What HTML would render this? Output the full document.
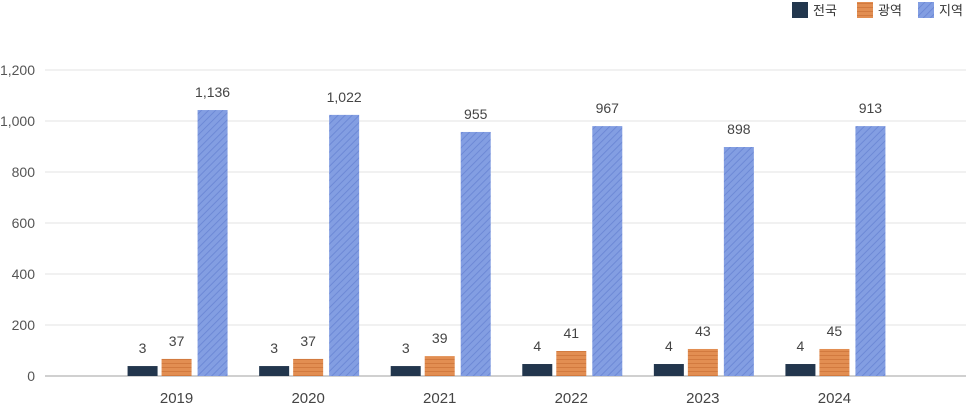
<!DOCTYPE html>
<html><head><meta charset="utf-8"><style>
body{margin:0;background:#fff;}
svg{display:block;font-family:"Liberation Sans","Noto Sans CJK KR",sans-serif;}
</style></head><body>
<svg id="chart" width="966" height="406">
<defs>
<pattern id="pOrange" width="6" height="4" patternUnits="userSpaceOnUse"><rect width="6" height="4" fill="#e28e52"/><rect y="3" width="6" height="1" fill="#d27a3f"/></pattern>
<pattern id="pBlue" width="5" height="5" patternUnits="userSpaceOnUse" patternTransform="rotate(45)"><rect width="5" height="5" fill="#839ee2"/><rect width="1" height="5" fill="#6d89d6"/></pattern>
</defs>
<g id="grid"></g>
<g id="yaxis"></g>
<g id="bars"></g>
<g id="xaxis"></g>
<g>
<g><rect x="792" y="2" width="16" height="16" fill="#22364d"/><text x="813" y="15" font-size="13" fill="#333">전국</text></g>
<g><rect x="857" y="2" width="16" height="16" fill="url(#pOrange)"/><text x="878" y="15" font-size="13" fill="#333">광역</text></g>
<g><rect x="918" y="2" width="16" height="16" fill="url(#pBlue)"/><text x="939" y="15" font-size="13" fill="#333">지역</text></g>
</g>
</svg>
<script>
const categories = ["2019","2020","2021","2022","2023","2024"];
const nationalHeights = [39,39,39,47,47,47];
const metroHeights = [67,67,78,98,106,106];
const regionalHeights = [1043,1024,957,980,898,980];
const nationalLabels = ["3","3","3","4","4","4"];
const metroLabels = ["37","37","39","41","43","45"];
const regionalLabels = ["1,136","1,022","955","967","898","913"];
const yTicks = [0,200,400,600,800,1000,1200];

const NS="http://www.w3.org/2000/svg";
const x0=45, x1=966, y0=376, yMax=1200, yTop=70;
const slot=(x1-x0)/7;
function xCenter(i){return x0+slot*(i+1);}
function yScale(v){return y0-(v/yMax)*(y0-yTop);}
function mk(tag,attrs,parent){const e=document.createElementNS(NS,tag);for(const k in attrs)e.setAttribute(k,attrs[k]);parent.appendChild(e);return e;}
const grid=document.getElementById('grid'),yax=document.getElementById('yaxis'),bars=document.getElementById('bars'),xax=document.getElementById('xaxis');
yTicks.forEach(t=>{
  const y=yScale(t);
  const l=mk('line',{x1:x0,x2:x1,y1:y,y2:y,stroke:t===0?'#d0d0d0':'#e3e3e3','stroke-width':t===0?2:1},grid);
  
  
  const tx=mk('text',{x:35,y:y+5,'text-anchor':'end','font-size':14,fill:'#555'},yax);
  tx.textContent=t.toLocaleString('en-US');
  
  
});
const series=[[nationalHeights,nationalLabels,'#22364d',-34,'national'],[metroHeights,metroLabels,'url(#pOrange)',0,'metro'],[regionalHeights,regionalLabels,'url(#pBlue)',36,'regional']];
categories.forEach((c,i)=>{
  const cx=xCenter(i);
  series.forEach(s=>{
    const bx=cx+s[3]-15, top=yScale(s[0][i]);
    const r=mk('rect',{x:bx,y:top,width:30,height:y0-top,fill:s[2]},bars);
    
    
    const t=mk('text',{x:bx+15,y:top-13,'text-anchor':'middle','font-size':14,fill:'#444'},bars);
    t.textContent=s[1][i];
    
    
  });
  const xt=mk('text',{x:cx,y:403,'text-anchor':'middle','font-size':15,fill:'#444'},xax);
  xt.textContent=c;
  
  
});
</script>
</body></html>
